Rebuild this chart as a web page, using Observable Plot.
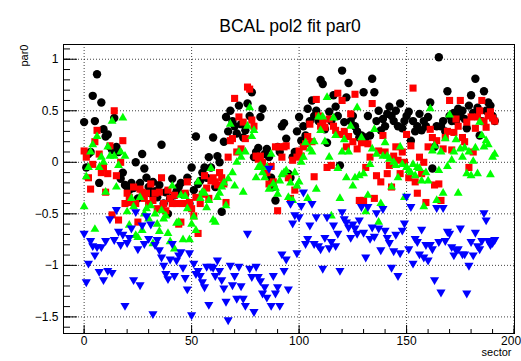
<!DOCTYPE html>
<html>
<head>
<meta charset="utf-8">
<script src="https://cdn.jsdelivr.net/npm/d3@7"></script>
<script src="https://cdn.jsdelivr.net/npm/@observablehq/plot@0.6"></script>
<style>
  html, body { margin: 0; padding: 0; background: #fff; }
  svg { display: block; }
</style>
</head>
<body>
<div id="chart"></div>
<script>
const titleText = "BCAL pol2 fit par0";
const xLabel = "sector";
const yLabel = "par0";

const sectors = d3.range(0, 192);

const xMajorTicks = [0, 50, 100, 150, 200];
const xMinorTicks = [0,10,20,30,40,50,60,70,80,90,100,110,120,130,140,150,160,170,180,190,200];
const xTickLabels = ["0", "50", "100", "150", "200"];
const yMajorTicks = [1, 0.5, 0, -0.5, -1, -1.5];
const yMinorTicks = [1.1,1,0.9,0.8,0.7,0.6,0.5,0.4,0.3,0.2,0.1,0,-0.1,-0.2,-0.3,-0.4,-0.5,-0.6,-0.7,-0.8,-0.9,-1,-1.1,-1.2,-1.3,-1.4,-1.5,-1.6];
const yTickLabels = ["1", "0.5", "0", "\u22120.5", "\u22121", "\u22121.5"];

// black circles
const blackVals = [
0.39,-0.05,0.08,0.10,0.645,0.40,0.855,-0.20,0.58,0.32,
0.25,0.27,0.15,0.12,0.43,0.15,0.10,-0.16,-0.10,-0.22,
-0.24,-0.27,-0.20,-0.25,0.00,-0.35,-0.20,0.08,-0.06,-0.15,
-0.24,-0.30,-0.19,-0.28,-0.34,-0.22,0.17,-0.40,-0.29,-0.50,
-0.35,-0.16,-0.32,-0.28,-0.24,-0.20,-0.31,-0.31,-0.15,-0.40,
-0.05,-0.27,0.25,-0.21,-0.18,-0.10,-0.05,-0.15,0.05,-0.05,
0.24,-0.24,0.06,0.00,-0.48,0.20,0.44,0.30,0.50,0.40,
0.35,0.28,0.55,0.37,0.24,0.31,0.57,0.45,0.68,0.05,
0.10,0.14,0.44,0.52,0.08,0.13,0.05,-0.15,-0.24,-0.37,
0.15,0.10,0.35,0.38,0.23,-0.11,-0.15,0.05,0.10,0.30,
0.44,0.21,0.35,0.26,0.52,0.40,0.60,0.45,0.50,0.40,
0.80,0.76,0.32,0.19,0.49,0.40,0.65,0.54,0.45,-0.03,
0.89,0.39,0.63,0.77,0.40,0.45,0.35,0.30,0.24,0.26,
0.68,0.24,0.45,0.26,0.81,0.68,0.40,0.50,0.31,0.42,
0.35,0.47,0.54,0.45,0.40,0.50,0.35,0.57,0.33,0.40,
0.45,0.49,0.21,0.40,0.30,0.35,0.47,0.31,0.40,0.35,
0.44,0.58,-0.06,0.15,0.35,1.02,0.35,0.40,0.30,0.69,
0.45,0.40,0.48,0.40,0.52,0.45,0.50,0.42,0.33,0.55,
0.65,0.48,0.81,0.53,0.26,0.40,0.69,0.50,0.58,0.55,
0.45,0.40];

// red squares
const redVals = [
0.11,0.05,-0.15,-0.26,-0.02,0.20,0.31,0.08,-0.10,-0.05,
-0.29,-0.11,0.16,-0.51,0.50,-0.13,-0.56,0.00,0.21,-0.40,
-0.30,-0.34,-0.39,-0.24,-0.40,-0.58,-0.26,-0.29,-0.35,-0.30,
-0.40,-0.21,-0.37,-0.30,-0.45,-0.29,-0.15,-0.40,-0.47,-0.27,
-0.35,-0.40,-0.32,-0.40,-0.60,-0.58,-0.40,-0.30,-0.19,-0.39,
-0.45,-0.52,-0.34,-0.69,-0.40,-0.31,-0.13,-0.25,-0.35,-0.18,
-0.15,-0.19,-0.22,-0.10,-0.15,-0.21,-0.39,0.05,0.21,0.23,
0.62,0.10,0.44,0.13,0.39,0.23,0.73,0.71,0.41,0.35,
0.06,0.03,0.06,0.00,-0.05,-0.10,-0.21,-0.04,-0.19,0.15,
-0.47,0.15,0.05,0.15,0.16,-0.15,-0.35,0.02,-0.27,0.05,
0.11,0.06,0.15,0.18,0.25,0.37,0.20,-0.14,0.61,0.45,
0.35,0.40,0.34,-0.05,0.42,-0.03,0.35,0.31,0.67,0.27,
0.60,0.30,0.15,0.25,0.47,0.20,0.66,0.13,-0.37,0.19,
-0.37,-0.05,0.18,0.05,0.57,-0.35,-0.13,0.11,-0.19,0.26,
0.10,-0.11,-0.03,-0.24,0.06,0.15,0.02,-0.11,0.10,0.00,
0.27,-0.15,0.16,0.72,-0.19,-0.30,0.05,-0.11,0.00,-0.39,
0.15,0.32,0.24,-0.22,0.21,-0.21,-0.37,0.13,0.24,0.30,
0.60,0.12,0.29,0.42,0.35,0.60,0.24,0.20,0.39,-0.05,
0.44,0.10,0.33,0.44,0.50,0.60,0.40,0.34,0.45,0.49,
0.43,0.40];

// green up triangles
const greenVals = [
-0.43,-0.14,-0.05,0.10,0.17,-0.65,0.25,-0.05,0.05,0.00,
-0.29,0.15,0.06,0.40,0.06,-0.24,-0.03,0.10,0.43,0.06,
-0.48,-0.61,-0.35,-0.43,-0.71,-0.73,-0.34,-0.66,-0.50,-0.45,
-0.55,-0.42,-0.79,-0.50,-0.60,-0.67,-0.47,-0.55,-0.52,-0.69,
-0.77,-0.23,-0.84,-0.59,-0.58,-0.32,-0.75,-0.33,-0.45,-0.75,
-0.60,-0.53,-0.66,-0.19,-0.35,-0.29,-0.30,-0.44,-0.37,-0.06,
-0.56,-0.58,-0.34,-0.30,-0.24,-0.20,-0.42,-0.16,0.37,-0.10,
-0.23,0.00,0.10,0.05,-0.29,0.10,0.35,0.53,0.25,0.31,
-0.15,-0.05,-0.03,-0.10,-0.15,-0.05,-0.26,0.08,-0.21,-0.25,
-0.31,-0.18,-0.12,-0.10,-0.08,-0.34,-0.20,-0.37,-0.10,-0.23,
-0.19,0.00,0.05,0.19,-0.35,0.13,0.10,0.20,-0.26,0.44,
0.31,0.44,0.20,0.63,0.05,-0.52,0.43,0.26,-0.06,-0.35,
0.10,0.22,-0.15,0.10,0.35,-0.23,-0.15,0.53,-0.13,0.24,
-0.11,-0.48,-0.32,-0.02,0.13,0.32,0.08,-0.58,-0.40,0.06,
0.19,0.06,0.03,-0.24,0.00,-0.03,-0.15,0.15,-0.02,-0.34,
-0.05,-0.08,-0.10,-0.02,-0.13,-0.05,-0.06,-0.18,-0.43,-0.10,
-0.18,0.52,0.11,0.16,-0.37,-0.08,0.10,-0.30,0.23,-0.04,
0.46,0.02,0.10,0.22,-0.30,0.13,0.05,0.14,-0.11,0.10,
-0.13,0.01,0.14,-0.11,0.39,0.26,0.15,0.21,0.17,-0.12,
0.05,0.08];

// blue down triangles
const blueVals = [
-0.69,-1.16,-0.98,-0.76,-0.81,-0.90,-0.82,-1.06,-0.82,-1.14,
-0.76,-1.05,-0.55,-1.07,-0.75,-0.46,-0.67,-0.80,-0.70,-1.39,
-0.78,-0.73,-0.64,-1.14,-0.48,-0.84,-1.19,-0.61,-0.79,-0.52,
-0.74,-0.60,-1.47,-0.80,-0.75,-0.85,-0.92,-1.00,-1.08,-1.13,
-0.94,-0.79,-1.10,-0.95,-0.90,-0.87,-1.02,-1.12,-1.23,-0.88,
-1.48,-0.98,-1.08,-1.05,-1.10,-1.16,-1.21,-1.01,-1.38,-1.01,
-1.02,-1.10,-0.95,-1.05,-1.14,-1.22,-1.35,-1.53,-1.00,-1.19,
-1.10,-1.32,-1.01,-1.20,-1.32,-1.39,-0.69,-1.03,-1.11,-1.45,
-1.01,-1.11,-1.15,-1.27,-1.21,-1.31,-0.06,-1.39,-1.10,-1.27,
-1.21,-1.39,-0.89,-1.05,-0.94,-1.23,-0.40,-0.59,-0.51,-0.88,
-0.53,-0.42,-0.29,-0.79,-0.74,-0.61,-0.40,-0.79,-0.53,-0.81,
-0.84,-1.03,-0.73,-0.53,-0.83,-0.77,-0.61,-0.81,-0.69,-1.05,
-0.48,-0.55,-0.58,-0.63,-0.73,-0.60,-0.64,-0.69,-0.56,-0.43,
-0.68,-0.92,-0.43,-0.74,-0.63,-0.72,-0.49,-0.64,-0.85,-0.45,
-0.66,-0.73,-0.78,-1.02,-0.86,-0.70,-1.10,-0.88,-0.66,-0.59,
-0.33,-0.84,-0.43,-0.98,-0.74,-0.77,-0.89,-0.65,-0.92,-0.80,
-0.95,-0.80,-0.84,-1.14,-0.44,-0.77,-1.26,-0.44,-0.76,-0.67,
-0.69,-0.82,-0.90,-0.85,-0.84,-0.64,-0.89,-0.89,-1.27,-1.00,
-0.77,-0.90,-0.68,-0.81,-0.84,-0.76,-0.49,-0.56,-0.76,-0.80,
-0.78,-0.75];

const font = "'Liberation Sans', Arial, Helvetica, sans-serif";
const gridStyle = {stroke: "#000", strokeOpacity: 0.75, strokeDasharray: "1,2"};

const plot = Plot.plot({
  width: 521,
  height: 361,
  marginLeft: 63,
  marginRight: 7,
  marginTop: 44,
  marginBottom: 28,
  style: {fontFamily: font, background: "#fff", color: "#000", overflow: "visible"},
  x: {domain: [-9.6, 200.2], axis: null},
  y: {domain: [-1.661, 1.143], axis: null},
  marks: [
    Plot.gridX(xMajorTicks, gridStyle),
    Plot.gridY(yMajorTicks, gridStyle),
    Plot.dot(blackVals, {x: (d, i) => sectors[i], y: d => d, symbol: "circle", fill: "#000", r: 4.2}),
    Plot.dot(redVals, {x: (d, i) => sectors[i], y: d => d, symbol: "square", fill: "#ff0000", r: 4}),
    Plot.dot(greenVals, {x: (d, i) => sectors[i], y: d => d, symbol: "triangle", fill: "#00ff00", r: 3.3}),
    Plot.dot(blueVals, {x: (d, i) => sectors[i], y: d => d, symbol: "triangle", rotate: 180, fill: "#0000ff", r: 3.4}),
    Plot.frame({stroke: "#000", strokeWidth: 1}),
    // y axis ticks (inward) and labels
    Plot.axisY({anchor: "left", ticks: yMinorTicks, tickSize: -7, tickFormat: () => ""}),
    Plot.axisY({anchor: "left", ticks: yMajorTicks, tickSize: -14, tickFormat: () => ""}),
    Plot.axisY({anchor: "left", ticks: yMajorTicks, tickSize: 0, tickPadding: 5, fontSize: 12,
      tickFormat: d => yTickLabels[yMajorTicks.indexOf(d)]}),
    // x axis ticks (inward) and labels
    Plot.axisX({anchor: "bottom", ticks: xMinorTicks, tickSize: -4, tickFormat: () => ""}),
    Plot.axisX({anchor: "bottom", ticks: xMajorTicks, tickSize: -8, tickFormat: () => ""}),
    Plot.axisX({anchor: "bottom", ticks: xMajorTicks.slice(0, 4), tickSize: 0, tickPadding: 3, fontSize: 12,
      tickFormat: d => xTickLabels[xMajorTicks.indexOf(d)]}),
    Plot.axisX({anchor: "bottom", ticks: xMajorTicks.slice(4), tickSize: 0, tickPadding: 3, fontSize: 12,
      textAnchor: "end", dx: 7, tickFormat: d => xTickLabels[xMajorTicks.indexOf(d)]}),
    // titles
    Plot.text([titleText], {frameAnchor: "top", dy: -25, dx: 1, fontSize: 17.5, fill: "#000"}),
    Plot.text([yLabel], {frameAnchor: "top-left", rotate: -90, textAnchor: "end", dx: -43, dy: 0, fontSize: 11, fill: "#000"}),
    Plot.text([xLabel], {frameAnchor: "bottom-right", textAnchor: "end", dx: -3, dy: 22, fontSize: 11, fill: "#000"})
  ]
});
document.getElementById("chart").appendChild(plot);
</script>
</body>
</html>
